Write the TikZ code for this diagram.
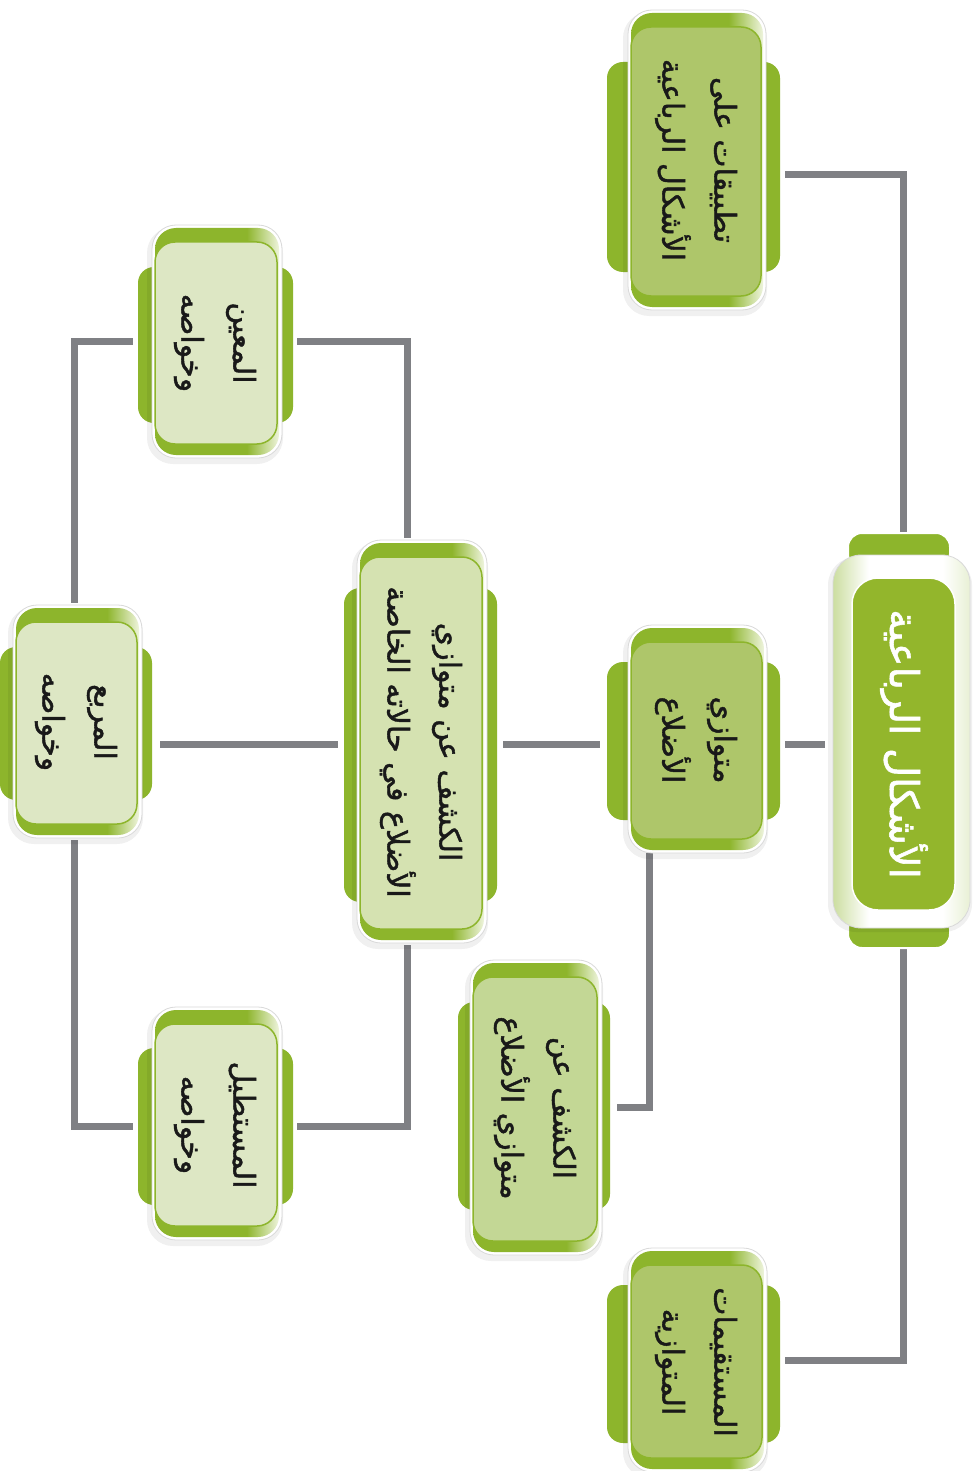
\documentclass[tikz,border=0pt]{standalone}
\usepackage{fontspec}
\TeXXeTstate=1
\newfontfamily\arabicfont[Script=Arabic,FakeBold=1.4]{DejaVu Sans}
\usetikzlibrary{fit,calc}
\definecolor{gr}{HTML}{8DB52C}
\definecolor{grl}{HTML}{EEF4DC}
\definecolor{cA}{HTML}{AEC66A}
\definecolor{cD}{HTML}{D5E2B1}
\definecolor{cE}{HTML}{C3D795}
\definecolor{cF}{HTML}{DDE7C4}
\definecolor{cM}{HTML}{93B62C}
\definecolor{ln}{HTML}{7F8084}
\pgfdeclarehorizontalshading{band}{100bp}{color(0bp)=(gr); color(25bp)=(gr); color(62bp)=(gr); color(75bp)=(grl); color(100bp)=(grl)}
\pgfdeclarehorizontalshading{mainbody}{100bp}{color(0bp)=(gr!45); color(25bp)=(gr!45); color(38bp)=(white); color(65bp)=(white); color(75bp)=(gr!20); color(100bp)=(gr!20)}
\pgfdeclarelayer{bg}
\pgfsetlayers{bg,main}
\def\qfill{cA}
% #1 name, #2-#5 body box, #6-#9 tab box
\newcommand\qbox[9]{%
  \fill[gr, rounded corners=16pt] (#6,#7) rectangle (#8,#9);
  \fill[black, opacity=0.06, rounded corners=26pt] (#2-5,#3+2) rectangle (#4+1,#5+6);
  \filldraw[fill=white, draw=black!15, line width=0.8pt, rounded corners=24pt] (#2,#3) rectangle (#4,#5);
  \shade[shading=band, rounded corners=21pt] (#2+3,#3+3) rectangle (#4-3,#5-3);
  \filldraw[fill=\qfill, draw=gr, line width=1.5pt, rounded corners=20pt] (#2+3,#3+17) rectangle (#4-5,#5-14);
  \node[fit={(#6,#3) (#8,#5)}, inner sep=0pt] (#1) {};
}
\tikzset{
  txt/.style={rotate=-90, align=center, inner sep=0pt, text=black!90,
    font=\arabicfont\fontsize{30}{52}\selectfont},
  conn/.style={draw=ln, line width=7pt}
}
\begin{document}
\begin{tikzpicture}[x=1pt,y=-1pt]
\useasboundingbox (0,0) rectangle (975,1471);
\begin{pgfonlayer}{bg}
\fill[white] (0,0) rectangle (975,1471);
\end{pgfonlayer}

% ---------- main node ----------
\filldraw[fill=gr, draw=white, line width=2pt, rounded corners=14pt] (848,533) rectangle (950,568);
\filldraw[fill=gr, draw=white, line width=2pt, rounded corners=14pt] (848,915) rectangle (950,948);
\fill[black, opacity=0.06, rounded corners=28pt] (828,557) rectangle (972,932);
\shade[shading=mainbody, draw=black!15, line width=0.8pt, rounded corners=28pt] (833,555) rectangle (970,928);
\filldraw[fill=cM, draw=white, line width=1.5pt, rounded corners=26pt] (852,578) rectangle (955,910);
\node[fit={(833,533) (970,948)}, inner sep=0pt] (M) {};
\node[txt, text=white, font=\arabicfont\fontsize{40}{52}\selectfont] (Mt) at (904,744) {\beginR الأشكال الرباعية\endR};

% ---------- other nodes ----------
\def\qfill{cA}
\qbox{A}{628}{10}{766}{310}{607}{62}{780}{272}
\node[txt] (At) at (696,160) {\beginR تطبيقات على\endR\\\beginR الأشكال الرباعية\endR};
\qbox{B}{628}{625}{767}{853}{607}{662}{780}{820}
\node[txt] (Bt) at (696,740) {\beginR متوازي\endR\\\beginR الأضلاع\endR};
\qbox{C}{628}{1248}{767}{1472}{607}{1285}{780}{1443}
\node[txt] (Ct) at (696,1362) {\beginR المستقيمات\endR\\\beginR المتوازية\endR};

\def\qfill{cD}
\qbox{D}{357}{540}{487}{943}{344}{588}{497}{902}
\node[txt] (Dt) at (421,742) {\beginR الكشف عن متوازي\endR\\\beginR الأضلاع في حالاته الخاصة\endR};

\def\qfill{cE}
\qbox{E}{470}{960}{602}{1255}{458}{1002}{610}{1210}
\node[txt] (Et) at (535,1108) {\beginR الكشف عن\endR\\\beginR متوازي الأضلاع\endR};

\def\qfill{cF}
\qbox{F}{152}{225}{282}{458}{138}{267}{293}{423}
\node[txt] (Ft) at (215,343) {\beginR المعين\endR\\\beginR وخواصه\endR};
\qbox{G}{13}{605}{142}{838}{0}{647}{152}{800}
\node[txt] (Gt) at (76,722) {\beginR المربع\endR\\\beginR وخواصه\endR};
\qbox{H}{152}{1007}{282}{1240}{138}{1048}{293}{1205}
\node[txt] (Ht) at (215,1125) {\beginR المستطيل\endR\\\beginR وخواصه\endR};

% ---------- connectors ----------
\coordinate (hm) at ([yshift=-4pt]M.west);
\begin{pgfonlayer}{bg}
\draw[conn] ([xshift=5pt,yshift=-15pt]A.east) -| ([xshift=1.5pt]M.north);
\draw[conn] ([xshift=1.5pt]M.south) |- ([xshift=5pt]C.east);
\draw[conn] ($(M.west|-hm)+(-8,0)$) -- ($(B.east|-hm)+(5,0)$);
\draw[conn] ($(B.west|-hm)+(-7,0)$) -- ($(D.east|-hm)+(6,0)$);
\draw[conn] ([xshift=-44.5pt]B.south) |- ([xshift=7pt]E.east);
\draw[conn] ([xshift=-13.5pt,yshift=2pt]D.north) |- ([xshift=4pt]F.east);
\draw[conn] ([xshift=-13.5pt,yshift=-2pt]D.south) |- ([xshift=4pt,yshift=-3pt]H.east);
\draw[conn] ($(D.west|-hm)+(-6,0)$) -- ($(G.east|-hm)+(8,0)$);
\draw[conn] ([xshift=-2pt,yshift=2pt]G.north) |- ([xshift=-5pt]F.west);
\draw[conn] ([xshift=-2pt,yshift=-2pt]G.south) |- ([xshift=-5pt,yshift=-3pt]H.west);
\end{pgfonlayer}
\end{tikzpicture}
\end{document}
